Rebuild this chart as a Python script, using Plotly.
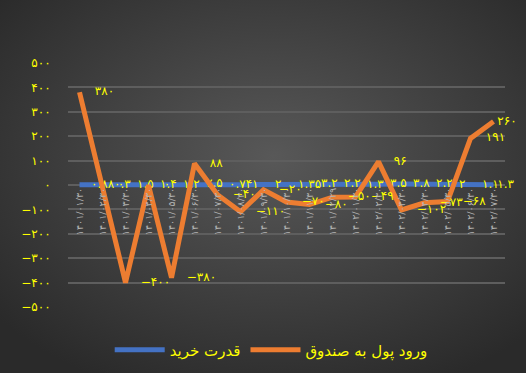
import base64
import plotly.graph_objects as go

# ---------------- data ----------------
dates = ["۱۴۰۱/۰۱/۳۰", "۱۴۰۱/۰۲/۳۰", "۱۴۰۱/۰۳/۳۰", "۱۴۰۱/۰۴/۳۰", "۱۴۰۱/۰۵/۳۰",
         "۱۴۰۱/۰۶/۳۰", "۱۴۰۱/۰۷/۳۰", "۱۴۰۱/۰۸/۳۰", "۱۴۰۱/۰۹/۳۰", "۱۴۰۱/۱۰/۳۰",
         "۱۴۰۱/۱۱/۳۰", "۱۴۰۱/۱۲/۲۹", "۱۴۰۲/۰۱/۳۰", "۱۴۰۲/۰۲/۳۰", "۱۴۰۲/۰۳/۳۰",
         "۱۴۰۲/۰۴/۳۰", "۱۴۰۲/۰۵/۳۰", "۱۴۰۲/۰۶/۳۰", "۱۴۰۲/۰۷/۳۰"]
purchasing_power = [0.88, 0.3, 1.5, 1.4, 1.2, 2.5, 0.74, 1, 2, 1.35,
                    3.2, 2.2, 1.3, 3.5, 3.8, 2.2, 2, 1.1, 1.3]
fund_inflow = [380, 0, -400, 0, -380, 88, -40, -110, -20, -70,
               -80, -50, -49, 96, -102, -73, -68, 191, 260]
y_ticks = [500, 400, 300, 200, 100, 0, -100, -200, -300, -400, -500]
series_names = ["قدرت خرید", "ورود پول به صندوق"]

FA = str.maketrans("0123456789-", "۰۱۲۳۴۵۶۷۸۹−")


def fa(v):
    return ("%g" % v).translate(FA)


def labels(vals, pad):
    out = [pad + fa(v) for v in vals]
    out[-1] = "\u00a0" + fa(vals[-1])
    return out


W, H = 526, 373
L, R, T, B = 68, 21, 63, 66
PW, PH = W - L - R, H - T - B

YELLOW = "#ffff00"
FONT = "DejaVu Sans"

svg = ("<svg xmlns='http://www.w3.org/2000/svg' width='526' height='373'>"
       "<defs><radialGradient id='g' cx='52%' cy='42%' r='68%'>"
       "<stop offset='0' stop-color='#585858'/><stop offset='1' stop-color='#2a2a2a'/>"
       "</radialGradient></defs><rect width='526' height='373' fill='url(#g)'/></svg>")
bg_uri = "data:image/svg+xml;base64," + base64.b64encode(svg.encode()).decode()

fig = go.Figure()
fig.add_trace(go.Scatter(
    x=dates, y=purchasing_power, name=series_names[0], mode="lines+text",
    line=dict(color="#4472C4", width=5),
    text=labels(purchasing_power, "\u00a0\u00a0\u00a0"), textposition="middle right",
    textfont=dict(color=YELLOW, size=12, family=FONT), cliponaxis=False,
))
fig.add_trace(go.Scatter(
    x=dates, y=fund_inflow, name=series_names[1], mode="lines+text",
    line=dict(color="#ED7D31", width=5),
    text=labels(fund_inflow, "\u00a0\u00a0\u00a0\u00a0"), textposition="middle right",
    textfont=dict(color=YELLOW, size=12, family=FONT), cliponaxis=False,
))

fig.update_layout(
    width=W, height=H,
    margin=dict(l=L, r=R, t=T, b=B, autoexpand=False),
    paper_bgcolor="#3a3a3a",
    plot_bgcolor="rgba(0,0,0,0)",
    font=dict(family=FONT, color=YELLOW),
    showlegend=True,
    legend=dict(orientation="h", x=0.465, xanchor="center", y=-0.176, yanchor="middle",
                itemwidth=50,
                font=dict(color=YELLOW, size=15, family=FONT), bgcolor="rgba(0,0,0,0)"),
    images=[dict(source=bg_uri, xref="paper", yref="paper",
                 x=-L / PW, y=1 + T / PH, sizex=W / PW, sizey=H / PH,
                 sizing="stretch", xanchor="left", yanchor="top", layer="below")],
    xaxis=dict(type="category", range=[-0.5, len(dates) - 0.5], anchor="free", position=0.5,
               automargin=False,
               showgrid=False, showline=False, zeroline=False, tickangle=-90,
               tickfont=dict(color="#b4b4b4", size=9.5, family=FONT), ticks=""),
    yaxis=dict(range=[-500, 500], tickvals=y_ticks, ticktext=[fa(v) for v in y_ticks],
               automargin=False,
               showgrid=True, gridcolor="#5e5e5e", gridwidth=1.5, zeroline=False,
               ticks="outside", ticklen=14, tickcolor="rgba(0,0,0,0)",
               tickfont=dict(color=YELLOW, size=12, family=FONT)),
)

fig.write_html("out.html", config={"displayModeBar": False},
               post_script="document.body.style.margin='0';document.body.style.overflow='hidden';")
